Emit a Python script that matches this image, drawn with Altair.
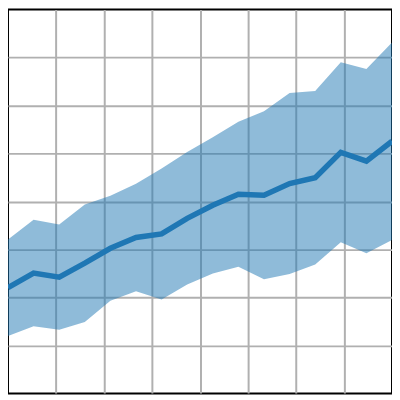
import altair as alt
import pandas as pd

# x positions (0..8, 16 points)
xs = [0.0, 0.533, 1.067, 1.6, 2.133, 2.667, 3.2, 3.733, 4.267, 4.8, 5.333, 5.867, 6.4, 6.933, 7.467, 8.0]
upper = [3.21, 3.62, 3.52, 3.94, 4.12, 4.37, 4.69, 5.03, 5.34, 5.66, 5.88, 6.26, 6.30, 6.90, 6.76, 7.31]
lower = [1.20, 1.40, 1.33, 1.49, 1.93, 2.13, 1.96, 2.27, 2.50, 2.64, 2.38, 2.49, 2.69, 3.15, 2.92, 3.20]
middle = [(u + l) / 2 for u, l in zip(upper, lower)]

df = pd.DataFrame({"x": xs, "upper": upper, "lower": lower, "mid": middle})

xscale = alt.Scale(domain=[0, 8], nice=False, zero=False)
yscale = alt.Scale(domain=[0, 8], nice=False, zero=False)
ticks = [1, 2, 3, 4, 5, 6, 7]

xaxis = alt.Axis(values=ticks, labels=False, ticks=False, domain=False, title=None,
                 grid=True, gridColor="#b0b0b0", gridWidth=2, gridOpacity=1)
yaxis = alt.Axis(values=ticks, labels=False, ticks=False, domain=False, title=None,
                 grid=True, gridColor="#b0b0b0", gridWidth=2, gridOpacity=1)

base = alt.Chart(df)

band = base.mark_area(color="#1f77b4", opacity=0.5, strokeWidth=0).encode(
    x=alt.X("x:Q", scale=xscale, axis=xaxis),
    y=alt.Y("upper:Q", scale=yscale, axis=yaxis),
    y2="lower:Q",
)

line = base.mark_line(color="#1f77b4", strokeWidth=5.5).encode(
    x=alt.X("x:Q", scale=xscale),
    y=alt.Y("mid:Q", scale=yscale),
)

chart = (band + line).properties(
    width=387, height=387, padding=0,
    autosize=alt.AutoSizeParams(type="none"),
    background="white",
).configure_view(
    stroke="black", strokeWidth=2, clip=True
)

chart.save("out.html", embed_options={"renderer": "svg", "actions": False})
